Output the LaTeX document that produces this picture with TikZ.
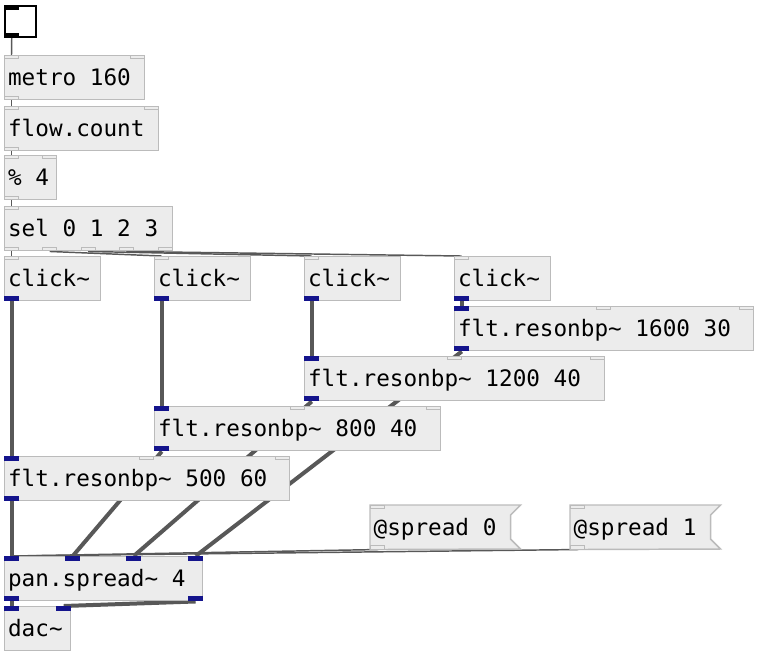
\documentclass[tikz,border=0pt]{standalone}
\usepackage{fontspec}
\newfontfamily\pdfont{DejaVu Sans Mono}
\usetikzlibrary{calc}
\pgfdeclarelayer{wires}
\pgfdeclarelayer{back}
\pgfsetlayers{wires,back,main}
\definecolor{boxfill}{HTML}{ECECEC}
\definecolor{boxline}{HTML}{BBBBBB}
\definecolor{sigblue}{HTML}{14148C}
\definecolor{wire}{HTML}{585858}

\begin{document}
\begin{tikzpicture}[x=0.75pt,y=-0.75pt,
    pdtext/.style={anchor=north west,inner xsep=2.5pt,inner ysep=0pt,
      minimum height=33pt,text height=15pt,text depth=3pt,align=flush left,
      font={\pdfont\fontsize{17}{20}\selectfont},
      execute at begin node={\spaceskip=0.602em\relax},
      text width={#1*0.75pt-5pt}},
    obj/.style={pdtext=#1,draw=boxline,fill=boxfill,line width=1.1pt},
    msg/.style={pdtext=#1},
    flag/.style={draw=boxline,fill=boxfill,line width=1.1pt},
    toggle/.style={draw=black,fill=white,line width=1.5pt,minimum size=23.25pt,
      inner sep=0pt,anchor=north west},
    iolet/.style={inner sep=0pt,minimum width=11.25pt,minimum height=3.75pt},
    cin/.style={iolet,anchor=north west,draw=boxline,fill=boxfill,line width=0.75pt,
      minimum width=10.5pt,minimum height=2.5pt},
    cout/.style={cin,anchor=south west},
    sin/.style={iolet,anchor=north west,fill=sigblue},
    sout/.style={sin,anchor=south west},
    tin/.style={iolet,anchor=north west,fill=black},
    tout/.style={tin,anchor=south west},
    ctl/.style={draw=wire,line width=1.1pt},
    sig/.style={draw=wire,line width=3pt}]
  \useasboundingbox (0,0) rectangle (759,654);

  % control chain
  \node[toggle] (tgl) at (4,5) {};
  \node[tin] (tgli) at (tgl.north west) {};
  \node[tout] (tglo) at (tgl.south west) {};
  \node[obj=140] (metro) at (4,55) {metro 160};
  \node[cin] (metroi0) at (metro.north west) {};
  \node[cin,anchor=north east] (metroi1) at (metro.north east) {};
  \node[cout] (metroo) at (metro.south west) {};
  \node[obj=154] (count) at (4,106) {flow.count};
  \node[cin] (counti0) at (count.north west) {};
  \node[cin,anchor=north east] (counti1) at (count.north east) {};
  \node[cout] (counto) at (count.south west) {};
  \node[obj=52] (mod) at (4,155) {\% 4};
  \node[cin] (modi0) at (mod.north west) {};
  \node[cin,anchor=north east] (modi1) at (mod.north east) {};
  \node[cout] (modo) at (mod.south west) {};
  \node[obj=168] (sel) at (4,206) {sel 0 1 2 3};
  \node[cin] (seli) at (sel.north west) {};
  \node[cout] (selo0) at (sel.south west) {};
  \node[cout] (selo1) at ($(sel.south west)+(38.25,0)$) {};
  \node[cout] (selo2) at ($(sel.south west)+(76.5,0)$) {};
  \node[cout] (selo3) at ($(sel.south west)+(114.75,0)$) {};
  \node[cout,anchor=south east] (selo4) at (sel.south east) {};

  % clicks
  \node[obj=96] (clk1) at (4,256) {click\textasciitilde};
  \node[obj=96] (clk2) at (154,256) {click\textasciitilde};
  \node[obj=96] (clk3) at (304,256) {click\textasciitilde};
  \node[obj=96] (clk4) at (454,256) {click\textasciitilde};
  \node[cin] (clk1i) at (clk1.north west) {};
  \node[cin] (clk2i) at (clk2.north west) {};
  \node[cin] (clk3i) at (clk3.north west) {};
  \node[cin] (clk4i) at (clk4.north west) {};
  \node[sout] (clk1o) at (clk1.south west) {};
  \node[sout] (clk2o) at (clk2.south west) {};
  \node[sout] (clk3o) at (clk3.south west) {};
  \node[sout] (clk4o) at (clk4.south west) {};

  % resonators
  \node[obj=299] (res4) at (454,306) {flt.resonbp\textasciitilde{} 1600 30};
  \node[obj=300] (res3) at (304,356) {flt.resonbp\textasciitilde{} 1200 40};
  \node[obj=286] (res2) at (154,406) {flt.resonbp\textasciitilde{} 800 40};
  \node[obj=285] (res1) at (4,456) {flt.resonbp\textasciitilde{} 500 60};
  \node[sin] (res4i0) at (res4.north west) {};
  \node[cin] (res4i1) at ($(res4.north west)+(142,0)$) {};
  \node[cin,anchor=north east] (res4i2) at (res4.north east) {};
  \node[sout] (res4o) at (res4.south west) {};
  \node[sin] (res3i0) at (res3.north west) {};
  \node[cin] (res3i1) at ($(res3.north west)+(142.5,0)$) {};
  \node[cin,anchor=north east] (res3i2) at (res3.north east) {};
  \node[sout] (res3o) at (res3.south west) {};
  \node[sin] (res2i0) at (res2.north west) {};
  \node[cin] (res2i1) at ($(res2.north west)+(135.5,0)$) {};
  \node[cin,anchor=north east] (res2i2) at (res2.north east) {};
  \node[sout] (res2o) at (res2.south west) {};
  \node[sin] (res1i0) at (res1.north west) {};
  \node[cin] (res1i1) at ($(res1.north west)+(135,0)$) {};
  \node[cin,anchor=north east] (res1i2) at (res1.north east) {};
  \node[sout] (res1o) at (res1.south west) {};

  % messages
  \node[msg=150] (spr0) at (370,505) {@spread 0};
  \node[msg=150] (spr1) at (570,505) {@spread 1};
  \node[cin] (spr0i) at (spr0.north west) {};
  \node[cout] (spr0o) at (spr0.south west) {};
  \node[cin] (spr1i) at (spr1.north west) {};
  \node[cout] (spr1o) at (spr1.south west) {};

  % output
  \node[obj=198] (pan) at (4,556) {pan.spread\textasciitilde{} 4};
  \node[sin] (pani0) at (pan.north west) {};
  \node[sin] (pani1) at ($(pan.north west)+(61,0)$) {};
  \node[sin] (pani2) at ($(pan.north west)+(122,0)$) {};
  \node[sin,anchor=north east] (pani3) at (pan.north east) {};
  \node[sout] (pano0) at (pan.south west) {};
  \node[sout,anchor=south east] (pano1) at (pan.south east) {};
  \node[obj=66] (dac) at (4,606) {dac\textasciitilde};
  \node[sin] (daci0) at (dac.north west) {};
  \node[sin,anchor=north east] (daci1) at (dac.north east) {};

  \begin{pgfonlayer}{back}
    \draw[flag] (spr0.north west) -- (spr0.north east) -- ++(-10,10) -- ++(0,24)
      -- ++(10,10) -- (spr0.south west) -- cycle;
    \draw[flag] (spr1.north west) -- (spr1.north east) -- ++(-10,10) -- ++(0,24)
      -- ++(10,10) -- (spr1.south west) -- cycle;
  \end{pgfonlayer}

  \begin{pgfonlayer}{wires}
    \draw[ctl] (tglo.south) -- (metroi0.north);
    \draw[ctl] (metroo.south) -- (counti0.north);
    \draw[ctl] (counto.south) -- (modi0.north);
    \draw[ctl] (modo.south) -- (seli.north);
    \draw[ctl] (selo0.south) -- (clk1i.north);
    \draw[ctl] (selo1.south) -- (clk2i.north);
    \draw[ctl] (selo2.south) -- (clk3i.north);
    \draw[ctl] (selo3.south) -- (clk4i.north);
    \draw[ctl] (spr0o.south) -- (pani0.north);
    \draw[ctl] (spr1o.south) -- (pani0.north);
    \draw[sig] (clk1o.south) -- (res1i0.north);
    \draw[sig] (clk2o.south) -- (res2i0.north);
    \draw[sig] (clk3o.south) -- (res3i0.north);
    \draw[sig] (clk4o.south) -- (res4i0.north);
    \draw[sig] (res1o.south) -- (pani0.north);
    \draw[sig] (res2o.south) -- (pani1.north);
    \draw[sig] (res3o.south) -- (pani2.north);
    \draw[sig] (res4o.south) -- (pani3.north);
    \draw[sig] (pano0.south) -- (daci0.north);
    \draw[sig] (pano1.south) -- (daci1.north);
  \end{pgfonlayer}
\end{tikzpicture}
\end{document}
